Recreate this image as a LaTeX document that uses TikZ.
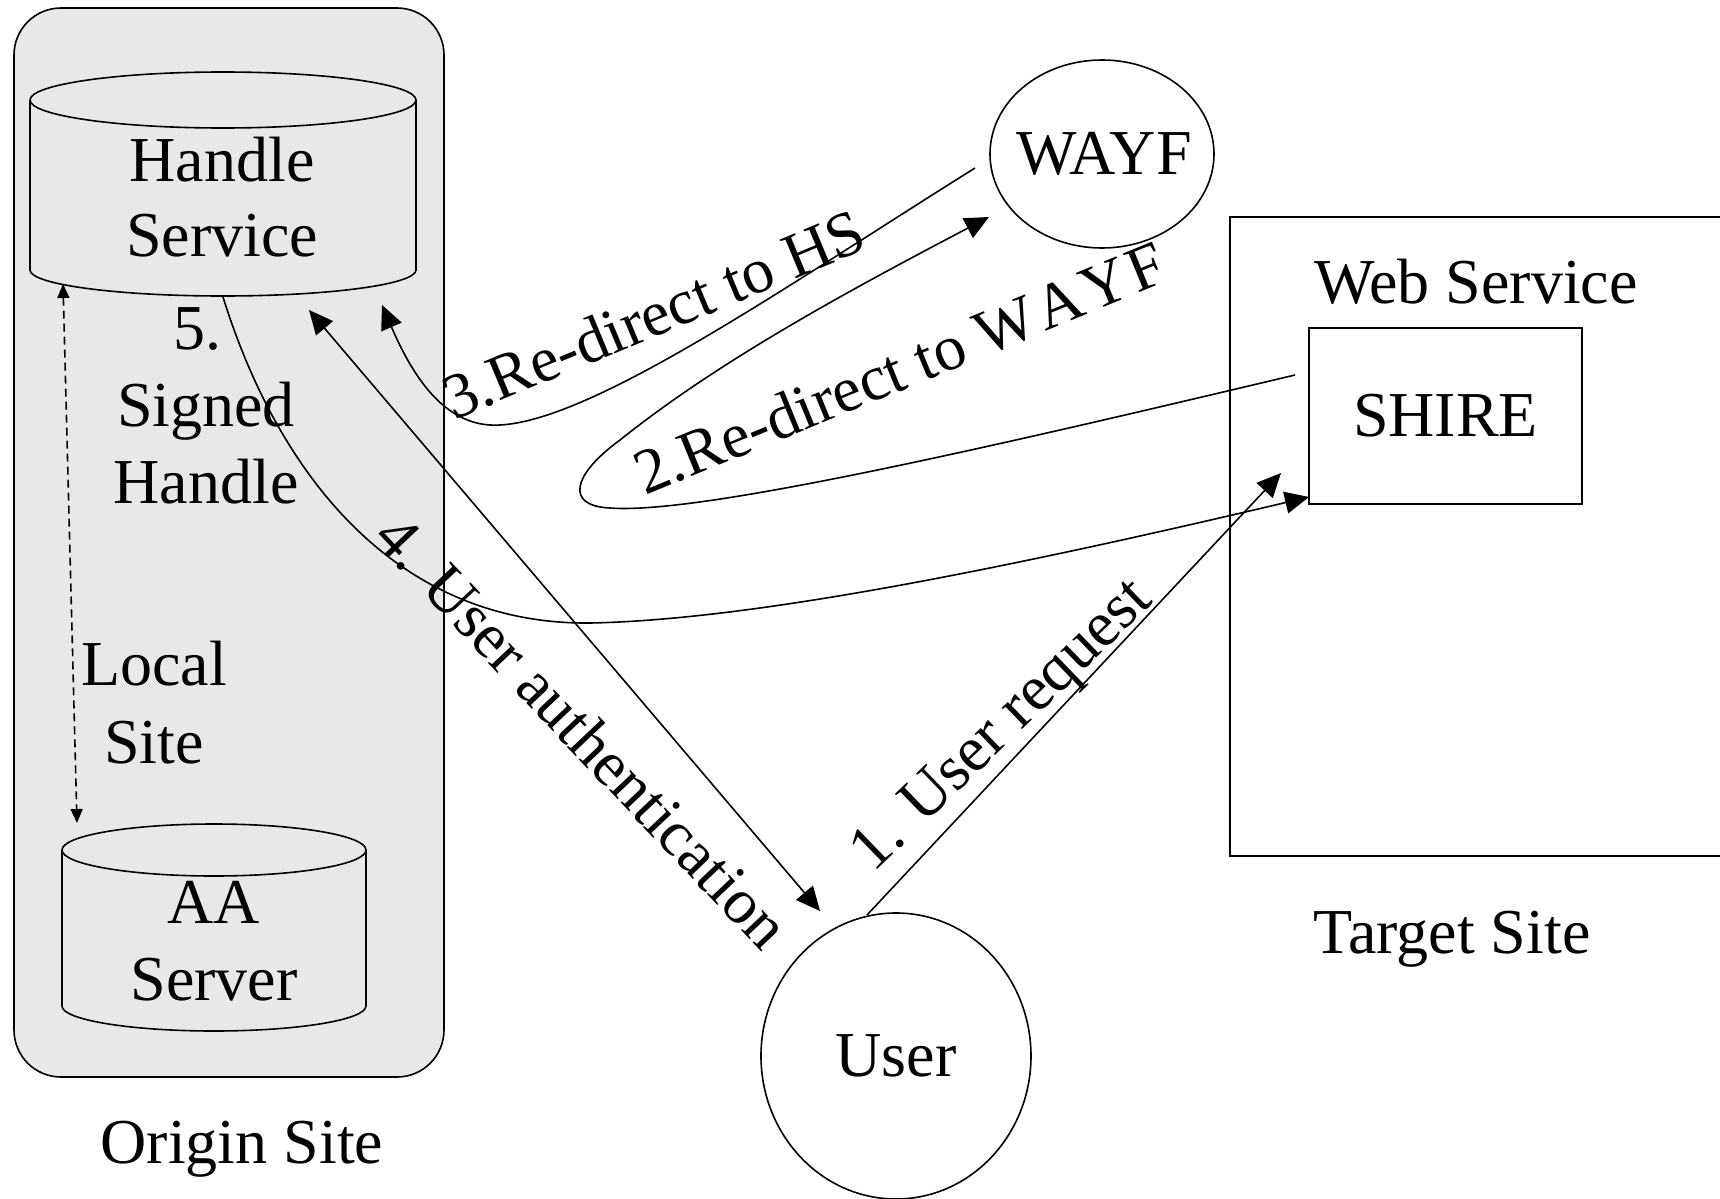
\documentclass[tikz,border=0pt]{standalone}
\usepackage{fontspec}
\setmainfont{Liberation Serif}
\usetikzlibrary{arrows.meta,shapes.geometric,calc}
\definecolor{sitegray}{HTML}{E8E8E8}
\begin{document}
\begin{tikzpicture}[x=0.5pt,y=-0.5pt,
  every node/.style={inner sep=0pt, outer sep=0pt},
  txt/.style={font=\fontsize{32}{38}\selectfont},
  multi/.style={align=center, font=\fontsize{32}{#1}\selectfont},
  ln/.style={line width=0.8pt},
  tip/.style={-{Triangle[length=12pt,width=11pt]}},
  bothtips/.style={{Triangle[length=12pt,width=11pt]}-{Triangle[length=12pt,width=11pt]}},
  smalltips/.style={{Triangle[length=7pt,width=6pt]}-{Triangle[length=7pt,width=6pt]}},
]
\useasboundingbox (0,0) rectangle (1720,1199);
\fill[white] (0,0) rectangle (1720,1199);
\clip (0,0) rectangle (1720,1199);

% Origin site container
\node[draw, ln, fill=sitegray, rounded corners=23.5pt, minimum width=215pt, minimum height=534.5pt] (origin) at (229,542.5) {};

% Handle Service cylinder
\node[draw=none, minimum width=193pt, minimum height=112pt] (hs) at (223,184) {};
\draw[ln] (30,100) -- (30,270) arc[start angle=180, end angle=0, x radius=193, y radius=26] -- (416,100);
\draw[ln] (223,100) ellipse [x radius=193, y radius=28];
\node[multi=37.5] (hstext) at (222,197.6) {Handle\\Service};

% AA Server cylinder
\node[draw=none, minimum width=152pt, minimum height=103.5pt] (aa) at (214,927.5) {};
\draw[ln] (62,850) -- (62,1006) arc[start angle=180, end angle=0, x radius=152, y radius=25] -- (366,850);
\draw[ln] (214,850) ellipse [x radius=152, y radius=26];
\node[multi=38.5] (aatext) at (214,941.5) {AA\\Server};

% labels inside origin site
\node[multi=38.5] (signed) at (206,405.5) {5.\hspace*{8pt}\\Signed\\Handle};
\node[multi=39] (local) at (154,703) {Local\\Site};
\node[txt, anchor=base] (originlbl) at (242,1163) {Origin Site};

% WAYF and User
\node[draw, ln, ellipse, minimum width=112pt, minimum height=94pt] (wayf) at (1102,154) {};
\node[txt] (wayftext) at (1104,154) {WAYF};
\node[draw, ln, ellipse, minimum width=135pt, minimum height=143pt, txt] (user) at (896,1056) {User};

% Target site
\node[draw, ln, minimum width=247.5pt, minimum height=319.5pt] (target) at (1477.5,536.5) {};
\node[txt, anchor=base] (websvc) at (1476,303) {Web Service};
\node[draw, ln, minimum width=136.5pt, minimum height=88pt, txt] (shire) at (1445.5,416) {SHIRE};
\node[txt, anchor=base] (targetlbl) at (1452,953) {Target Site};

% connectors
\draw[ln, dashed, dash pattern=on 4pt off 2.5pt, smalltips]
  ($(hs.south west)+(33,-12)$) -- ($(aa.north west)+(15,-1)$);

\draw[ln, tip] ($(user.center)+(-29,-141)$) -- ($(shire.south west)+(-28,-31)$);

\draw[ln, tip] ($(shire.west)+(-14,-41)$) .. controls (1000,445) and (700,515) .. (610,508)
  .. controls (565,506) and (572,475) .. (620,440)
  .. controls (720,360) and (850,290) .. ($(wayf.center)+(-113,63)$);

\draw[ln, tip] ($(wayf.center)+(-127,14)$) .. controls (780,290) and (580,430) .. (490,425)
  .. controls (440,422) and (410,370) .. ($(hs.south)+(159,9)$);

\draw[ln, bothtips] ($(hs.south)+(86,14)$) -- ($(user.center)+(-76,-145)$);

\draw[ln, tip] ($(hs.south)+(0,1)$) .. controls (280,480) and (400,625) .. (590,623)
  .. controls (750,620) and (1000,570) .. ($(shire.south west)+(0,-7)$);

% connector labels
\node[txt, anchor=base, rotate=44] (lbl1) at (1014,738) {1. User request};
\node[txt, anchor=base, rotate=22.3] (lbl2) at (908,388) {2.Re-direct to W\kern2pt A\kern2pt Y\kern2pt F};
\node[txt, anchor=base, rotate=22.6] (lbl3) at (662,334) {3.Re-direct to HS};
\node[txt, anchor=base, rotate=-46.6] (lbl4) at (567,746) {4. User authentication};
\end{tikzpicture}
\end{document}
